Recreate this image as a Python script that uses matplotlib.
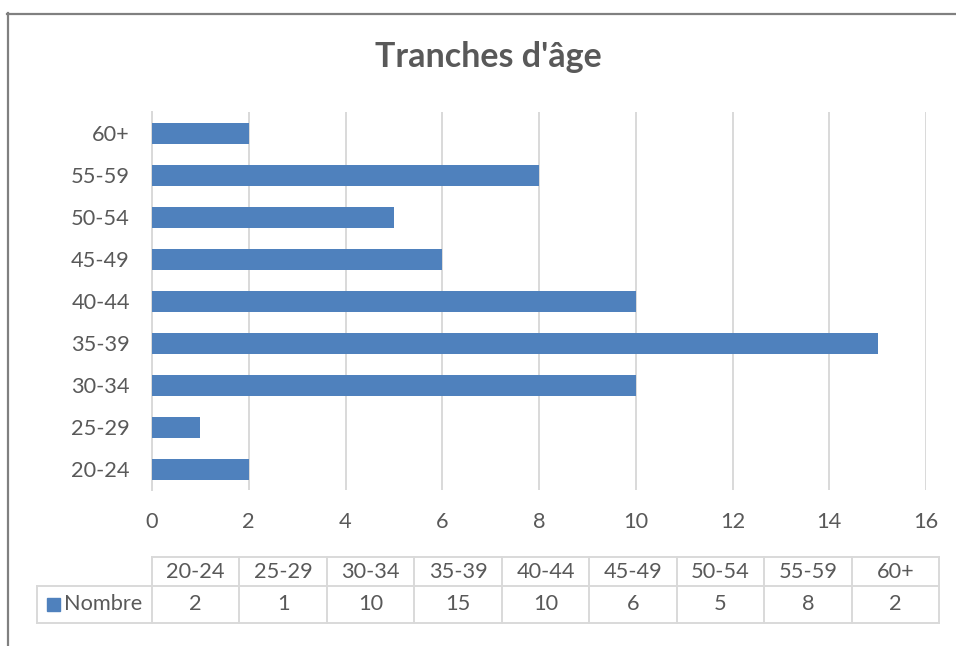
import matplotlib
matplotlib.use("Agg")
import matplotlib.pyplot as plt
from matplotlib.lines import Line2D
from matplotlib.patches import Rectangle

# Data
categories = ["20-24", "25-29", "30-34", "35-39", "40-44", "45-49", "50-54", "55-59", "60+"]
counts = [2, 1, 10, 15, 10, 6, 5, 8, 2]
x_ticks = [0, 2, 4, 6, 8, 10, 12, 14, 16]
series_name = "Nombre"
title = "Tranches d'âge"

# Style
BAR = "#4F81BD"
GRID = "#D9D9D9"
TEXT = "#595959"
FRAME = "#808080"
FS = 15.7

plt.rcParams["font.family"] = ["Lato", "DejaVu Sans"]

W, H = 956, 646
fig = plt.figure(figsize=(W / 100, H / 100), dpi=100)


def fx(px):
    return px / W


def fy(py):
    return 1 - py / H


# Bar chart area
left, right, top, bottom = 152, 926, 112, 490
ax = fig.add_axes([fx(left), fy(bottom), (right - left) / W, (bottom - top) / H])
ypos = list(range(len(categories)))
ax.barh(ypos, counts, height=0.5, color=BAR, zorder=3)
ax.set_xlim(x_ticks[0], x_ticks[-1])
ax.set_ylim(-0.5, len(categories) - 0.5)
ax.set_xticks(x_ticks)
ax.set_yticks(ypos, categories)
ax.grid(axis="x", color=GRID, linewidth=1.4, zorder=0)
for s in ["top", "right", "bottom"]:
    ax.spines[s].set_visible(False)
ax.spines["left"].set_color(GRID)
ax.spines["left"].set_linewidth(1.4)
ax.tick_params(length=0, labelsize=FS, labelcolor=TEXT)
ax.tick_params(axis="x", pad=16)
ax.tick_params(axis="y", pad=16)

# Title
fig.text(fx(488), fy(67), title, ha="center", va="baseline", fontsize=24.5,
         fontweight="bold", color=TEXT)

# Outer frame (top and left edges)
fig.add_artist(Line2D([fx(7), fx(956)], [fy(13.5), fy(13.5)], color=FRAME, linewidth=1.6))
fig.add_artist(Line2D([fx(7.5), fx(7.5)], [fy(13), fy(646)], color=FRAME, linewidth=1.6))

# Data table below the chart
t_left, t_right = 152, 939
legend_left = 37
r0, r1, r2 = 557, 586, 623
n = len(categories)
col_w = (t_right - t_left) / n


def hline(x0, x1, y):
    fig.add_artist(Line2D([fx(x0), fx(x1)], [fy(y), fy(y)], color=GRID, linewidth=1.4))


def vline(x, y0, y1):
    fig.add_artist(Line2D([fx(x), fx(x)], [fy(y0), fy(y1)], color=GRID, linewidth=1.4))


hline(t_left, t_right, r0)
hline(legend_left, t_right, r1)
hline(legend_left, t_right, r2)
vline(legend_left, r1, r2)
for i in range(n + 1):
    vline(t_left + i * col_w, r0, r2)

for i, (cat, val) in enumerate(zip(categories, counts)):
    cx = t_left + (i + 0.5) * col_w
    fig.text(fx(cx), fy((r0 + r1) / 2), cat, ha="center", va="center",
             fontsize=FS, color=TEXT)
    fig.text(fx(cx), fy((r1 + r2) / 2), str(val), ha="center", va="center",
             fontsize=FS, color=TEXT)

# Legend key inside the table
fig.add_artist(Rectangle((fx(47), fy(611)), 13 / W, 13 / H, color=BAR,
                         transform=fig.transFigure))
fig.text(fx(64), fy((r1 + r2) / 2), series_name, ha="left", va="center",
         fontsize=FS, color=TEXT)

fig.savefig("out.png", dpi=100, facecolor="white")
